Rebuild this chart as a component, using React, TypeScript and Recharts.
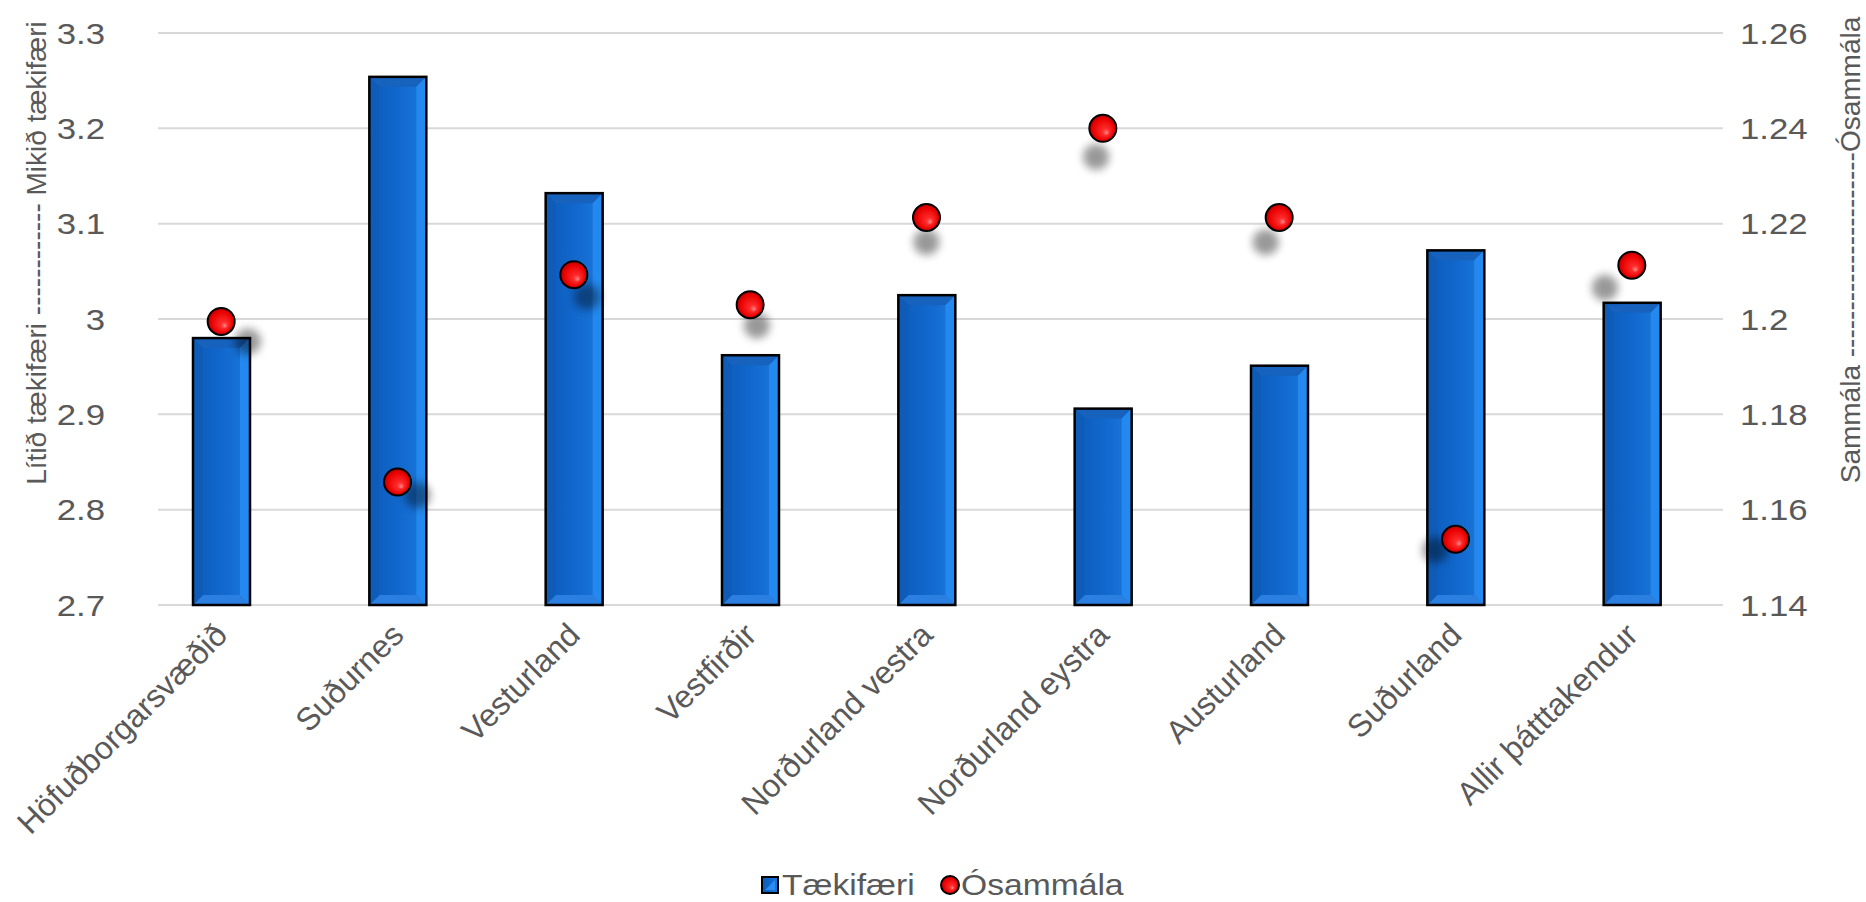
import React from 'react'
import { ComposedChart, Bar, Scatter, XAxis, YAxis, CartesianGrid, Legend } from 'recharts'

const regions = [
  'Höfuðborgarsvæðið',
  'Suðurnes',
  'Vesturland',
  'Vestfirðir',
  'Norðurland vestra',
  'Norðurland eystra',
  'Austurland',
  'Suðurland',
  'Allir þátttakendur',
]
const taekifaeri = [2.98, 3.254, 3.132, 2.962, 3.025, 2.906, 2.951, 3.072, 3.017]
const osammala = [1.1995, 1.1658, 1.2093, 1.203, 1.2213, 1.24, 1.2213, 1.1538, 1.2113]
const leftTicks = [2.7, 2.8, 2.9, 3, 3.1, 3.2, 3.3]
const rightTicks = [1.14, 1.16, 1.18, 1.2, 1.22, 1.24, 1.26]

const data = regions.map((region, i) => ({ region, taekifaeri: taekifaeri[i], osammala: osammala[i] }))

const FONT = '"Liberation Sans", Arial, sans-serif'
const TEXT = '#595959'
const SX = 1.16 // horizontal text in the original is a bit wide

function BevelBar(props: any) {
  const { x, y, width, height } = props
  if (!height || height <= 0) return null
  const b = Math.min(10, width / 5, height / 2)
  const r = x + width
  const btm = y + height
  return (
    <g>
      <rect x={x} y={y} width={width} height={height} fill="url(#barBody)" />
      <polygon points={`${x},${y} ${r},${y} ${r - b},${y + b} ${x + b},${y + b}`} fill="#1662bd" />
      <polygon points={`${r},${y} ${r},${btm} ${r - b},${btm - b} ${r - b},${y + b}`} fill="#2489ee" />
      <polygon points={`${x},${btm} ${r},${btm} ${r - b},${btm - b} ${x + b},${btm - b}`} fill="#2b7fe0" />
      <polygon points={`${x},${y} ${x},${btm} ${x + b},${btm - b} ${x + b},${y + b}`} fill="#0e5cb8" />
      <rect x={x} y={y} width={width} height={height} fill="none" stroke="#000" strokeWidth={2.5} />
    </g>
  )
}

function Ball(props: any) {
  const { cx, cy } = props
  if (cx == null || cy == null) return null
  // perspective shadow, falls away from the middle of the plot
  const sdx = -(cx - 925) * 0.038
  const sdy = 10.7 + (539 - cy) * 0.0435
  return (
    <g>
      <circle cx={cx + sdx} cy={cy + sdy} r={13} fill="#000" opacity={0.4} filter="url(#ballShadow)" />
      <circle cx={cx} cy={cy} r={13.5} fill="url(#ballFill)" stroke="#000" strokeWidth={2} />
    </g>
  )
}

function CategoryTick(props: any) {
  const { x, y, payload } = props
  const tx = x + 8
  const ty = y + 32
  return (
    <text transform={`translate(${tx} ${ty}) rotate(-45)`} textAnchor="end" fill={TEXT} fontSize={32} fontFamily={FONT}>
      {payload.value}
    </text>
  )
}

function ValueTick(props: any) {
  const { x, y, payload, textAnchor } = props
  return (
    <text
      transform={`translate(${x} ${y}) scale(${SX} 1)`}
      dy="0.355em"
      textAnchor={textAnchor}
      fill={TEXT}
      fontSize={30}
      fontFamily={FONT}
    >
      {String(payload.value)}
    </text>
  )
}

function LegendBox() {
  return (
    <svg width={1866} height={40} style={{ display: 'block' }}>
      <g transform="translate(762 15)">
        <rect x={0} y={0} width={16} height={16} fill="url(#barBody)" />
        <polygon points="3,13 13,3 13,13" fill="#2a8df2" />
        <rect x={0} y={0} width={16} height={16} fill="none" stroke="#000" strokeWidth={2} />
      </g>
      <text transform={`translate(782 33) scale(${SX} 1)`} fill={TEXT} fontSize={29} fontFamily={FONT}>
        Tækifæri
      </text>
      <circle cx={950} cy={23} r={9} fill="url(#ballFill)" stroke="#000" strokeWidth={2} />
      <text transform={`translate(961 33) scale(${SX} 1)`} fill={TEXT} fontSize={29} fontFamily={FONT}>
        Ósammála
      </text>
    </svg>
  )
}

export default function App() {
  return (
    <div style={{ position: 'absolute', left: 0, top: 0, width: 1866, height: 902, background: '#fff' }}>
      <svg width={0} height={0} style={{ position: 'absolute' }}>
        <defs>
          <linearGradient id="barBody" x1="0" y1="0" x2="1" y2="0">
            <stop offset="0" stopColor="#0c5cba" />
            <stop offset="0.5" stopColor="#1167cc" />
            <stop offset="1" stopColor="#1b78de" />
          </linearGradient>
          <radialGradient id="ballFill" cx="0.5" cy="0.5" r="0.5" fx="0.65" fy="0.68">
            <stop offset="0" stopColor="#ff8a8a" />
            <stop offset="0.25" stopColor="#ff2b2b" />
            <stop offset="0.8" stopColor="#e80000" />
            <stop offset="1" stopColor="#b00000" />
          </radialGradient>
          <filter id="ballShadow" x="-1" y="-1" width="3" height="3">
            <feGaussianBlur stdDeviation="4" />
          </filter>
        </defs>
      </svg>
      <ComposedChart width={1866} height={902} data={data} margin={{ top: 33, right: 0, bottom: 0, left: 0 }}>
        <CartesianGrid yAxisId="left" vertical={false} stroke="#d9d9d9" strokeWidth={2} />
        <XAxis
          dataKey="region"
          interval={0}
          tickLine={false}
          axisLine={false}
          tickSize={0}
          tickMargin={0}
          height={257}
          padding={{ left: -25, right: 3 }}
          tick={<CategoryTick />}
        />
        <YAxis
          yAxisId="left"
          domain={[2.7, 3.3]}
          ticks={leftTicks}
          width={158}
          tickLine={false}
          axisLine={false}
          tickSize={0}
          tickMargin={53}
          tick={<ValueTick />}
          label={{
            content: () => (
              <text x={36} y={253} transform="rotate(-90 36 253)" textAnchor="middle" dominantBaseline="central" fill={TEXT} fontSize={28} fontFamily={FONT}>
                Lítið tækifæri ------------ Mikið tækifæri
              </text>
            ),
          }}
        />
        <YAxis
          yAxisId="right"
          orientation="right"
          domain={[1.14, 1.26]}
          ticks={rightTicks}
          width={143}
          tickLine={false}
          axisLine={false}
          tickSize={0}
          tickMargin={17}
          tick={<ValueTick />}
          label={{
            content: () => (
              <text x={1850} y={250} transform="rotate(-90 1850 250)" textAnchor="middle" dominantBaseline="central" fill={TEXT} fontSize={28} fontFamily={FONT}>
                Sammála ----------------------Ósammála
              </text>
            ),
          }}
        />
        <Legend verticalAlign="bottom" height={40} content={() => <LegendBox />} />
        <Bar yAxisId="left" dataKey="taekifaeri" name="Tækifæri" barSize={57} shape={<BevelBar />} isAnimationActive={false} />
        <Scatter yAxisId="right" dataKey="osammala" name="Ósammála" shape={<Ball />} isAnimationActive={false} />
      </ComposedChart>
    </div>
  )
}
